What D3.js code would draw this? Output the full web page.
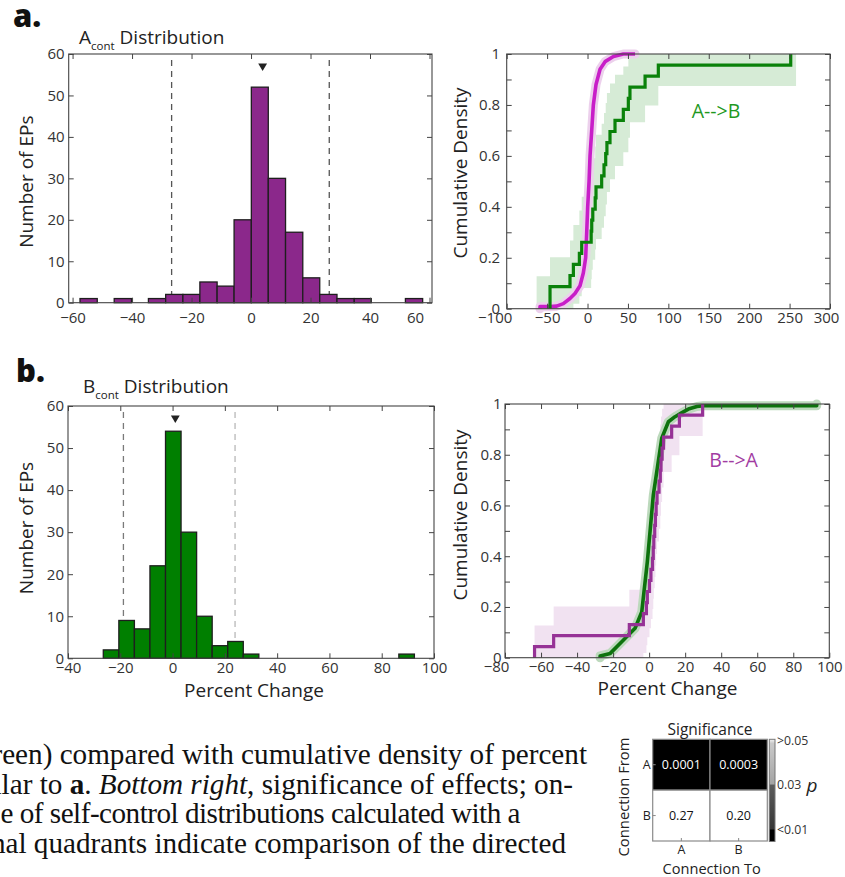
<!DOCTYPE html>
<html><head><meta charset="utf-8">
<script src="https://cdn.jsdelivr.net/npm/d3@7"></script>
<style>
body{margin:0;background:#fff;}
svg{display:block;}
text{font-family:"Open Sans","Noto Sans",sans-serif;}
</style>
</head><body>
<svg id="fig" width="845" height="877"></svg>
<script>
// ---------------- DATA ----------------
// Panel a, left: A_cont histogram
const histAEdges = [-57.5,-51.7,-46.0,-40.2,-34.5,-28.7,-22.9,-17.2,-11.4,-5.7,0.1,5.8,11.6,17.4,23.1,28.9,34.7,40.4,46.2,51.9,57.7];
const histACounts = [1,0,1,0,1,2,2,5,4,20,52,30,17,6,2,1,1,0,0,1];
const histAThresholds = [-26.7, 26.3];
const histAMean = 3.9;
const histAXTicks = [-60,-40,-20,0,20,40,60];
const histAYTicks = [0,10,20,30,40,50,60];

// Panel b, left: B_cont histogram
const histBEdges = [-26.5,-20.55,-14.6,-8.65,-2.7,3.25,9.2,15.15,21.1,27.05,33.0,38.95,44.9,50.85,56.8,62.75,68.7,74.65,80.6,86.55,92.5];
const histBCounts = [2,9,7,22,54,30,10,3,4,1,0,0,0,0,0,0,0,0,0,1];
const histBThresholds = [-18.8, 23.9];
const histBMean = 1.05;
const histBXTicks = [-40,-20,0,20,40,60,80,100];
const histBYTicks = [0,10,20,30,40,50,60];

// Panel a, right: A self-control CDF and A-->B directed samples
const aSelfX = [-58.8,-58.8,-46.4,-38.2,-29.9,-21.7,-15.5,-9.3,-5.2,-2.3,-1.0,0.2,1.9,3.1,5.2,7.2,10.5,15.5,21.7,32.0,44.3,58.8];
const aSelfY = [0,0.008,0.008,0.01,0.02,0.04,0.06,0.09,0.14,0.2,0.3,0.4,0.5,0.6,0.7,0.8,0.88,0.94,0.97,0.99,1.0,1.0];
const abValues = [-46.4,-46.4,-21.7,-17.5,-10.1,-7.2,4.5,5.2,6.5,9.5,10.5,17.5,20.4,22.5,24.0,27.8,34.0,44.3,50.5,52.5,71.2,87.6,251.4];
const abBandX  = [-63,-46.4,-21.7,-17.5,-10.1,-7.2,4.5,5.2,6.5,9.5,10.5,17.5,20.4,22.5,24.0,27.8,34.0,44.3,50.5,52.5,71.2,87.6,258];
const abBandLo = [0,0,0,.019,.049,.081,.116,.153,.192,.232,.274,.318,.363,.409,.458,.508,.560,.614,.671,.732,.798,.874,.874];
const abBandHi = [.127,.202,.268,.329,.386,.440,.492,.542,.591,.637,.683,.726,.768,.808,.847,.884,.919,.951,.981,1,1,1,1];
const cdfAXTicks = [-100,-50,0,50,100,150,200,250,300];

// Panel b, right: B self-control CDF and B-->A directed samples
const bSelfX = [-27.2,-27.2,-21.6,-15.2,-7.8,-4.1,-1.0,2.3,7.0,10.7,14.4,18.0,21.8,26.5,30.2,93.0,93.0];
const bSelfY = [0,0.007,0.017,0.063,0.116,0.18,0.378,0.64,0.865,0.93,0.95,0.965,0.98,0.99,0.993,0.993,1.0];
const baValues = [-63.6,-53.0,-11.0,-3.2,-1.5,-1.0,0.2,1.0,1.9,2.3,2.6,3.1,3.5,3.9,4.4,5.5,6.2,6.6,7.2,8.0,12.5,16.8,29.7];
const baBandX  = [-63.6,-53.0,-11.0,-3.2,-1.5,-1.0,0.2,1.0,1.9,2.3,2.6,3.1,3.5,3.9,4.4,5.5,6.2,6.6,7.2,8.0,12.5,16.8,29.7];
const baBandLo = [0,0,0,.019,.049,.081,.116,.153,.192,.232,.274,.318,.363,.409,.458,.508,.560,.614,.671,.732,.798,.874,.874];
const baBandHi = [.127,.202,.268,.329,.386,.440,.492,.542,.591,.637,.683,.726,.768,.808,.847,.884,.919,.951,.981,1,1,1,1];
const cdfBXTicks = [-80,-60,-40,-20,0,20,40,60,80,100];
const cdfYTicks = [0,0.1,0.2,0.3,0.4,0.5,0.6,0.7,0.8,0.9,1];

// Significance matrix
const sigRows = ["A","B"];
const sigCols = ["A","B"];
const sigP = [[0.0001,0.0003],[0.27,0.20]];
const sigText = [["0.0001","0.0003"],["0.27","0.20"]];
const sigBarLabels = [">0.05","0.03","<0.01"];
const sigBarValues = [0.05,0.03,0.01];

// Caption fragment (partial leading letter, then visible text)
const captionPre = ["r","i","","o"];
const captionLines = [
  [{t:"een) compared with cumulative density of percent"}],
  [{t:"lar to "},{t:"a",b:1},{t:". "},{t:"Bottom right",i:1},{t:", significance of effects; on-"}],
  [{t:"e of self-control distributions calculated with a"}],
  [{t:"nal quadrants indicate comparison of the directed"}]
];

// ---------------- DRAWING ----------------
const svg = d3.select("#fig");
const AX = "#444", TXT = "#333", TICKFS = "15px";

function frame(box, x, y, xTicks, yTicks, yFmt, xPad, yPad){
  const g = svg.append("g");
  const b = g.append("g").attr("transform",`translate(0,${box.y1})`)
    .call(d3.axisBottom(x).tickValues(xTicks).tickSize(-5).tickPadding(xPad).tickFormat(d3.format("d")));
  g.append("g").attr("transform",`translate(0,${box.y0})`)
    .call(d3.axisTop(x).tickValues(xTicks).tickSize(-5).tickFormat(""));
  const l = g.append("g").attr("transform",`translate(${box.x0},0)`)
    .call(d3.axisLeft(y).tickValues(yTicks).tickSize(-5).tickPadding(yPad).tickFormat(yFmt));
  g.append("g").attr("transform",`translate(${box.x1},0)`)
    .call(d3.axisRight(y).tickValues(yTicks).tickSize(-5).tickFormat(""));
  g.selectAll(".domain").remove();
  g.selectAll(".tick line").attr("stroke",AX).attr("stroke-width",1);
  g.selectAll(".tick text").attr("fill",TXT).style("font-size",TICKFS)
    .style("font-family",'"Open Sans","Noto Sans",sans-serif');
  return {g,b,l};
}
function border(box){
  svg.append("rect").attr("x",box.x0).attr("y",box.y0)
    .attr("width",box.x1-box.x0).attr("height",box.y1-box.y0)
    .attr("fill","none").attr("stroke",AX).attr("stroke-width",1.1);
}
function label(x,y,txt,size,opts={}){
  const t = svg.append("text").attr("x",x).attr("y",y).text(txt)
    .attr("fill",opts.fill||"#222").style("font-size",size+"px")
    .attr("text-anchor",opts.anchor||"middle");
  if(opts.rot){ t.attr("transform",`rotate(-90,${x},${y})`); }
  if(opts.dy) t.attr("dy",opts.dy);
  if(opts.weight) t.style("font-weight",opts.weight);
  return t;
}

function histPanel(box, edges, counts, dom, xTicks, yTicks, fill, thr, thrColors, mean, xPad){
  const x = d3.scaleLinear().domain(dom).range([box.x0,box.x1]);
  const y = d3.scaleLinear().domain([0,60]).range([box.y1,box.y0]);
  const g = svg.append("g");
  thr.forEach((v,i)=>{
    g.append("line").attr("x1",x(v)).attr("x2",x(v)).attr("y1",box.y0+6).attr("y2",box.y1)
      .attr("stroke",thrColors[i]).attr("stroke-width",1.3).attr("stroke-dasharray","6,5");
  });
  const bins = counts.map((c,i)=>({x0:edges[i],x1:edges[i+1],c})).filter(d=>d.c>0);
  g.selectAll("rect.bar").data(bins).join("rect").attr("class","bar")
    .attr("x",d=>x(d.x0)).attr("width",d=>x(d.x1)-x(d.x0))
    .attr("y",d=>y(d.c)).attr("height",d=>y(0)-y(d.c))
    .attr("fill",fill).attr("stroke","#1e1e1e").attr("stroke-width",1.3);
  g.append("path").attr("d",d3.symbol(d3.symbolTriangle,34)())
    .attr("transform",`translate(${x(mean)},${box.y0+12}) rotate(180)`).attr("fill","#222");
  const f = frame(box,x,y,xTicks,yTicks,d3.format("d"),xPad,4);
  border(box);
  return {x,y,f};
}

function stepPoints(vals){
  const n = vals.length;
  return [[vals[0],0]].concat(vals.map((v,i)=>[v,(i+1)/n]));
}

function cdfPanel(box, dom, xTicks, xPad, self, selfColor, haloColor, dir, dirColor, band, bandColor){
  const x = d3.scaleLinear().domain(dom).range([box.x0,box.x1]);
  const y = d3.scaleLinear().domain([0,1]).range([box.y1,box.y0]);
  const g = svg.append("g");
  const area = d3.area().curve(d3.curveStepAfter).x(d=>x(d[0])).y0(d=>y(d[1])).y1(d=>y(d[2]));
  g.append("path").attr("d",area(band.x.map((v,i)=>[v,band.lo[i],band.hi[i]]))).attr("fill",bandColor);
  const ln = d3.line().x(d=>x(d[0])).y(d=>y(d[1]));
  const sp = self.x.map((v,i)=>[v,self.y[i]]);
  g.append("path").attr("d",ln(sp)).attr("fill","none").attr("stroke",haloColor)
    .attr("stroke-width",9).attr("stroke-linejoin","round").attr("stroke-linecap","round");
  g.append("path").attr("d",ln(sp)).attr("fill","none").attr("stroke",selfColor)
    .attr("stroke-width",3.6).attr("stroke-linejoin","round");
  const st = d3.line().curve(d3.curveStepAfter).x(d=>x(d[0])).y(d=>y(d[1]));
  g.append("path").attr("d",st(stepPoints(dir))).attr("fill","none").attr("stroke",dirColor)
    .attr("stroke-width",3.2).attr("stroke-linejoin","miter");
  const yf = d=>{const k=Math.round(d*10); return k%2? "" : d3.format("~g")(k/10);};
  const f = frame(box,x,y,xTicks,cdfYTicks,yf,xPad,box.yPad);
  border(box);
  return {x,y,f};
}

// Boxes
const B1 = {x0:68.7,x1:432,y0:54,y1:302.7};
const B2 = {x0:506.7,x1:830,y0:54,y1:308.7,yPad:6.5};
const B3 = {x0:68,x1:434,y0:406,y1:658.3};
const B4 = {x0:505,x1:829.3,y0:404,y1:657.7,yPad:3.5};

const p1 = histPanel(B1,histAEdges,histACounts,[-61.3,60.84],histAXTicks,histAYTicks,"#8b288b",
  histAThresholds,["#555","#555"],histAMean,9.2);
p1.f.b.selectAll(".tick text").filter(d=>d===60).attr("dx",-14.5);

const p3 = histPanel(B3,histBEdges,histBCounts,[-40,100],histBXTicks,histBYTicks,"#007f00",
  histBThresholds,["#7a7a7a","#b8b8b8"],histBMean,4.2);

const p2 = cdfPanel(B2,[-100,300],cdfAXTicks,4,{x:aSelfX,y:aSelfY},"#c81ec8","#ecd0ec",
  abValues,"#0a820a",{x:abBandX,lo:abBandLo,hi:abBandHi},"#d6ebd6");
p2.f.b.selectAll(".tick text").filter(d=>d===300).attr("dx",-4);
p2.f.b.selectAll(".tick text").filter(d=>d===-100).attr("dx",-12);

const p4 = cdfPanel(B4,[-80,100],cdfBXTicks,3.3,{x:bSelfX,y:bSelfY},"#0d720d","#bcd9bc",
  baValues,"#963296",{x:baBandX,lo:baBandLo,hi:baBandHi},"#f1e2f1");
p4.f.b.selectAll(".tick text").filter(d=>d===-80).attr("dx",-9);

// Panel letters & titles
label(13,27,"a.",31,{anchor:"start",weight:800,fill:"#111"});
label(16,382,"b.",31,{anchor:"start",weight:800,fill:"#111"});
function title(x,y,main){
  const t = svg.append("text").attr("x",x).attr("y",y).attr("fill","#222").style("font-size","19px");
  t.append("tspan").text(main);
  t.append("tspan").text("cont").style("font-size","11.5px").attr("dy",6);
  t.append("tspan").text(" Distribution").attr("dy",-6);
}
title(79,44,"A");
title(83,393,"B");

label(26,181.7,"Number of EPs",19,{rot:1,dy:"0.35em"});
label(26,528,"Number of EPs",19,{rot:1,dy:"0.35em"});
label(460,173,"Cumulative Density",19,{rot:1,dy:"0.35em"});
label(460,515,"Cumulative Density",19,{rot:1,dy:"0.35em"});
label(254,697,"Percent Change",19);
label(667.5,694.5,"Percent Change",19);
label(691.7,118.3,"A-->B",19.5,{anchor:"start",fill:"#1f991f"});
label(709.3,466.7,"B-->A",19.5,{anchor:"start",fill:"#a23ca2"});

// Significance matrix
const M = {x0:652.7,x1:767.3,y0:739.3,y1:841};
const mx = d3.scaleBand().domain(sigCols).range([M.x0,M.x1]);
const my = d3.scaleBand().domain(sigRows).range([M.y0,M.y1]);
const pColor = p => p<=0.01 ? "#000" : (p>=0.05 ? "#fff" : d3.interpolateGreys(1-(p-0.01)/0.04));
const cells = [];
sigRows.forEach((r,i)=>sigCols.forEach((c,j)=>cells.push({r,c,p:sigP[i][j],t:sigText[i][j]})));
const mg = svg.append("g");
mg.selectAll("rect.cell").data(cells).join("rect").attr("class","cell")
  .attr("x",d=>mx(d.c)).attr("y",d=>my(d.r)).attr("width",mx.bandwidth()).attr("height",my.bandwidth())
  .attr("fill",d=>pColor(d.p)).attr("stroke","#8a8a8a").attr("stroke-width",1.2);
mg.selectAll("text.cell").data(cells).join("text").attr("class","cell")
  .attr("x",d=>mx(d.c)+mx.bandwidth()/2).attr("y",d=>my(d.r)+my.bandwidth()/2).attr("dy","0.35em")
  .attr("text-anchor","middle").style("font-size","12.5px")
  .attr("fill",d=>d.p<0.03?"#fff":"#111").text(d=>d.t);
sigRows.forEach(r=>{
  label(M.x0-6,my(r)+my.bandwidth()/2,r,12.5,{anchor:"middle",dy:"0.35em"});
  mg.append("line").attr("x1",M.x0).attr("x2",M.x0+3).attr("y1",my(r)+my.bandwidth()/2).attr("y2",my(r)+my.bandwidth()/2).attr("stroke","#888");
});
sigCols.forEach(c=>{
  label(mx(c)+mx.bandwidth()/2,M.y1+12,c,12.5,{dy:"0.1em"});
  mg.append("line").attr("x1",mx(c)+mx.bandwidth()/2).attr("x2",mx(c)+mx.bandwidth()/2).attr("y1",M.y1).attr("y2",M.y1-3).attr("stroke","#888");
});
label(710,735,"Significance",15.5);
label(711.7,874,"Connection To",14.6);
label(624,797,"Connection From",14.8,{rot:1,dy:"0.35em"});

// colorbar
const CB = {x0:769.3,x1:775,y0:739.3,y1:841.5};
const defs = svg.append("defs");
const grad = defs.append("linearGradient").attr("id","cbgrad").attr("x1",0).attr("x2",0).attr("y1",0).attr("y2",1);
[[0,"#f2f2f2"],[0.04,"#c9c9c9"],[0.44,"#a4a4a4"],[0.445,"#5c5c5c"],[0.88,"#363636"],[0.885,"#000"],[1,"#000"]]
  .forEach(s=>grad.append("stop").attr("offset",s[0]).attr("stop-color",s[1]));
svg.append("rect").attr("x",CB.x0).attr("y",CB.y0).attr("width",CB.x1-CB.x0).attr("height",CB.y1-CB.y0)
  .attr("fill","url(#cbgrad)").attr("stroke","#777").attr("stroke-width",1);
const cby = d3.scaleLinear().domain([0.05,0.01]).range([CB.y0+1,CB.y1-12]);
sigBarValues.forEach((v,i)=>{
  label(CB.x1+2,cby(v),sigBarLabels[i],12.3,{anchor:"start",dy:"0.35em",fill:"#333"});
});
label(812,792,"p",19,{anchor:"middle",fill:"#222"}).style("font-style","italic");

// Caption (font size from the first visible line; line 3 set slightly tighter)
const SERIF = "'Liberation Serif','Times New Roman',serif";
const tmp = svg.append("text").style("font-family",SERIF).style("font-size","100px")
  .text("een) compared with cumulative density of percent");
const w100 = tmp.node().getComputedTextLength(); tmp.remove();
const capSize = 100*585/w100;
const capX = [587,573,0.5,566];
const capAnchor = ["end","end","start","end"];
const capFitEnd = [null,null,520,null];
const capBase = [764,794,823,853];
captionLines.forEach((parts,i)=>{
  const t = svg.append("text").attr("x",capX[i]).attr("y",capBase[i]).attr("text-anchor",capAnchor[i])
    .attr("fill","#111").style("font-family",SERIF).style("font-size",capSize+"px");
  parts.forEach(p=>{
    const s = t.append("tspan").text(p.t);
    if(p.b) s.style("font-weight","bold");
    if(p.i) s.style("font-style","italic");
  });
  if(capFitEnd[i]){
    const full = parts.map(p=>p.t).join("");
    const nat = t.node().getComputedTextLength();
    const excess = nat - (capFitEnd[i]-capX[i]);
    if(excess>0) t.style("letter-spacing",(-excess/full.length)+"px");
  }
  if(captionPre[i]){
    const bb = t.node().getBBox();
    svg.append("text").attr("x",bb.x).attr("y",capBase[i]).attr("text-anchor","end")
      .attr("fill","#111").style("font-family",SERIF).style("font-size",capSize+"px").text(captionPre[i]);
  }
});
</script>
</body></html>
